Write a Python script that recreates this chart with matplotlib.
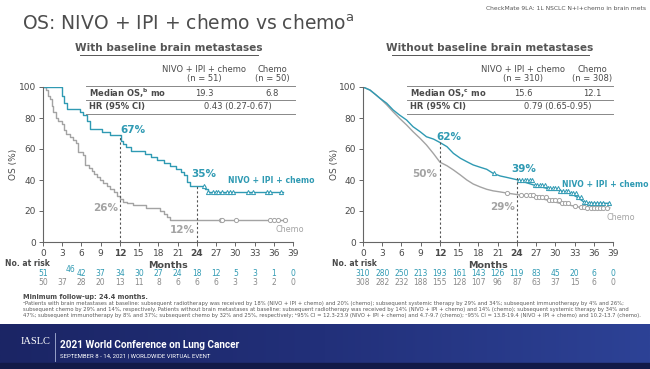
import numpy as np
import matplotlib.pyplot as plt
from matplotlib.lines import Line2D
from matplotlib.patches import Rectangle
from matplotlib.colors import LinearSegmentedColormap
from matplotlib.transforms import blended_transform_factory

TEAL = '#2f9ab3'
GRAY = '#a3a3a3'
DARK = '#4a4a4a'

W, H = 650, 369

# --- data ---
xticks = list(range(0, 40, 3))

# with baseline brain metastases
nivo_L_t = [0, 2.9, 3.3, 3.8, 5.8, 6.3, 6.9, 7.4, 9.2, 10.5, 12.1, 12.5, 13.0, 13.8, 15.9, 16.8,
            17.8, 18.8, 19.8, 20.8, 21.6, 22.0, 22.4, 22.9, 25.3, 25.8, 37.5]
nivo_L_s = [100, 94, 90, 86, 84, 82, 78, 73, 71, 69, 65, 63, 61, 59, 57, 55,
            53, 51, 49, 47, 45, 43, 39, 36, 34, 32, 32]
nivo_L_cens = [25.1, 25.8, 26.5, 27.0, 27.3, 27.9, 28.7, 29.2, 29.7, 32.0, 32.8, 34.9, 35.4, 37.2]

chemo_L_t = [0, 0.5, 0.8, 1.1, 1.4, 1.6, 2.0, 2.4, 2.9, 3.2, 3.6, 4.2, 4.7, 5.2, 5.5, 6.3, 6.6,
             7.1, 7.6, 7.9, 8.4, 8.9, 9.4, 10.0, 10.5, 11.0, 11.5, 12.0, 12.5, 13.1, 14.1, 16.1,
             18.3, 18.8, 19.3, 19.8, 37.8]
chemo_L_s = [100, 98, 94, 92, 88, 84, 80, 78, 76, 72, 70, 68, 66, 64, 58, 56, 50,
             48, 46, 44, 42, 40, 38, 36, 34, 32, 30, 28, 26, 25, 24, 22,
             20, 18, 16, 14, 14]
chemo_L_cens = [27.7, 28.0, 30.1, 35.4, 36.0, 36.6, 37.8]

risk_nivo_L = [51, 46, 42, 37, 34, 30, 27, 24, 18, 12, 5, 3, 1, 0]
risk_chemo_L = [50, 37, 28, 20, 13, 11, 8, 6, 6, 6, 3, 3, 2, 0]

# without baseline brain metastases
nivo_R_t = [0, 1.1, 2.0, 2.65, 3.7, 4.7, 5.7, 6.8, 7.8, 8.9, 9.9, 11.0, 12.0, 13.1, 14.1, 15.2,
            16.2, 17.2, 18.3, 19.3, 20.3, 21.4, 22.4, 24.2, 26.6, 28.7, 30.7, 32.3, 33.3, 34.4,
            35.0, 38.5]
nivo_R_s = [100, 98, 95, 92.7, 89.5, 85.2, 81.9, 78.7, 74.4, 71.2, 67.9, 66.4, 64.2, 61.5, 57.2, 54,
            51.8, 49.7, 48.2, 46.9, 44.3, 42.6, 41.7, 40, 36.8, 34.6, 33.1, 31.4, 29.2, 26,
            25, 25]
nivo_R_cens = [20.5, 24.4, 24.8, 25.2, 25.6, 26.0, 26.4, 26.8, 27.2, 27.6, 28.0, 28.4, 28.8, 29.2,
               29.6, 30.0, 30.4, 30.8, 31.2, 31.6, 32.0, 32.4, 32.8, 33.2, 33.6, 34.0, 34.4, 34.8,
               35.2, 35.6, 36.0, 36.5, 37.0, 37.5, 38.3]

chemo_R_t = [0, 1.1, 2.65, 3.7, 4.7, 5.7, 6.8, 7.8, 8.9, 9.9, 11.0, 12.0, 13.1, 14.1, 15.2, 16.2,
             17.2, 18.3, 19.3, 20.3, 21.4, 22.4, 24.2, 26.6, 28.7, 30.7, 32.9, 33.8, 35.0, 38.5]
chemo_R_s = [100, 98, 92.7, 88.5, 84, 79.8, 75.5, 71.2, 66.9, 62.6, 57, 51.5, 49.2, 46.5, 43.2, 40,
             37.4, 35.5, 34, 33, 32.3, 31.6, 30.5, 29.2, 27.1, 25, 23.2, 22.4, 22, 22]
chemo_R_cens = [22.5, 24.6, 25.5, 26.0, 26.5, 27.0, 27.5, 28.0, 28.5, 29.0, 29.5, 30.0, 30.5, 31.0,
                31.5, 32.0, 33.0, 34.0, 34.5, 35.0, 35.5, 36.0, 36.5, 37.0, 37.5, 38.0]

risk_nivo_R = [310, 280, 250, 213, 193, 161, 143, 126, 119, 83, 45, 20, 6, 0]
risk_chemo_R = [308, 282, 232, 188, 155, 128, 107, 96, 87, 63, 37, 15, 6, 0]


def fx(px):
    return px / W


def fy(py):
    return 1 - py / H


def value_at(t, s, month):
    i = np.searchsorted(t, month, side='right') - 1
    return s[i]


fig = plt.figure(figsize=(6.5, 3.69), dpi=100)
fig.patch.set_facecolor('white')


def panel(left_px, nivo_t, nivo_s, nivo_c, chemo_t, chemo_s, chemo_c, step,
          labels, risk_n, risk_c, risk_shift, ylab_x):
    ax = fig.add_axes([fx(left_px), fy(242), 250 / W, 155 / H])
    ds = 'steps-post' if step else 'default'
    ax.plot(chemo_t, chemo_s, color=GRAY, lw=1.0, drawstyle=ds)
    ax.plot(nivo_t, nivo_s, color=TEAL, lw=1.0, drawstyle=ds)
    ax.plot(chemo_c, [value_at(chemo_t, chemo_s, m) for m in chemo_c], 'o', ms=3.0,
            mfc='white', mec=GRAY, mew=0.7, ls='none')
    ax.plot(nivo_c, [value_at(nivo_t, nivo_s, m) for m in nivo_c], '^', ms=3.0,
            mfc='white', mec=TEAL, mew=0.7, ls='none')
    for m in (12, 24):
        ax.vlines(m, 0, value_at(nivo_t, nivo_s, m), colors='#555555', lw=0.8,
                  linestyles=(0, (2, 2)))
    ax.set_xlim(0, 39)
    ax.set_ylim(0, 100)
    ax.set_xticks(xticks)
    ax.set_yticks(range(0, 101, 20))
    for sp in ('top', 'right'):
        ax.spines[sp].set_visible(False)
    for sp in ('left', 'bottom'):
        ax.spines[sp].set_color('#666666')
        ax.spines[sp].set_linewidth(0.8)
    ax.tick_params(direction='out', length=3, width=0.7, color='#666666',
                   labelsize=6.5, labelcolor=DARK, pad=2)
    for lab in ax.get_xticklabels():
        if lab.get_text() in ('12', '24'):
            lab.set_fontweight('bold')
    ax.set_ylabel('OS (%)', fontsize=6.5, color=DARK)
    ax.yaxis.set_label_coords(ylab_x, 0.5)
    ax.set_xlabel('Months', fontsize=6.8, color=DARK, fontweight='bold', labelpad=2)
    for txt, m, v, col, ha, fs, bold in labels:
        ax.text(m, v, txt, color=col, ha=ha, va='center', fontsize=fs,
                fontweight='bold' if bold else 'normal', clip_on=False)
    tr = blended_transform_factory(ax.transData, fig.transFigure)
    for i, m in enumerate(xticks):
        dx, dy = risk_shift.get(i, (0, 0))
        ax.text(m + dx, fy(273 + dy), str(risk_n[i]), transform=tr, ha='center', va='center',
                fontsize=5.5, color=TEAL)
        ax.text(m, fy(282.5), str(risk_c[i]), transform=tr, ha='center', va='center',
                fontsize=5.5, color='#8a8a8a')
    return ax


labels_L = [('67%', 14.0, 72, TEAL, 'center', 7.5, True),
            ('26%', 9.7, 22, GRAY, 'center', 7.5, True),
            ('35%', 25.1, 44, TEAL, 'center', 7.5, True),
            ('12%', 21.8, 8, GRAY, 'center', 7.5, True),
            ('NIVO + IPI + chemo', 28.9, 39.5, TEAL, 'left', 5.6, True),
            ('Chemo', 36.2, 8, GRAY, 'left', 5.8, False)]
labels_R = [('62%', 13.4, 68, TEAL, 'center', 7.5, True),
            ('50%', 9.7, 44, GRAY, 'center', 7.5, True),
            ('39%', 25.0, 47, TEAL, 'center', 7.5, True),
            ('29%', 21.8, 22.6, GRAY, 'center', 7.5, True),
            ('NIVO + IPI + chemo', 31.0, 37.4, TEAL, 'left', 5.6, True),
            ('Chemo', 38.0, 16, GRAY, 'left', 5.8, False)]

panel(43, nivo_L_t, nivo_L_s, nivo_L_cens, chemo_L_t, chemo_L_s, chemo_L_cens, True,
      labels_L, risk_nivo_L, risk_chemo_L, {1: (1.3, -3)}, -0.1)
panel(363, nivo_R_t, nivo_R_s, nivo_R_cens, chemo_R_t, chemo_R_s, chemo_R_cens, False,
      labels_R, risk_nivo_R, risk_chemo_R, {}, -0.094)

# No. at risk labels
for x0 in (5, 332):
    fig.text(fx(x0), fy(263.5), 'No. at risk', fontsize=5.5, fontweight='bold', color=DARK,
             va='center', ha='left')

# title and headings
fig.text(fx(22), fy(24), r'OS: NIVO + IPI + chemo vs chemo$^{\mathregular{a}}$', fontsize=13.5,
         color='#4d4d4d', va='center', ha='left')
fig.text(fx(646), fy(8), 'CheckMate 9LA: 1L NSCLC N+I+chemo in brain mets', fontsize=4.3,
         color='#555555', ha='right', va='center')

for txt, xc, x0, x1 in [('With baseline brain metastases', 169, 80, 258),
                        ('Without baseline brain metastases', 490, 392, 589)]:
    fig.text(fx(xc), fy(48), txt, fontsize=7.6, fontweight='bold', color='#555555',
             ha='center', va='center')
    fig.add_artist(Line2D([fx(x0), fx(x1)], [fy(55), fy(55)], color='#555555', lw=0.7))


def table(x0, x1, c1, c2, n1, n2, med1, med2, hr, sup):
    kw = dict(fontsize=6, color=DARK, va='center')
    fig.text(fx(c1), fy(69), 'NIVO + IPI + chemo', ha='center', **kw)
    fig.text(fx(c2), fy(69), 'Chemo', ha='center', **kw)
    fig.text(fx(c1), fy(78.5), n1, ha='center', **kw)
    fig.text(fx(c2), fy(78.5), n2, ha='center', **kw)
    fig.text(fx(x0 + 3), fy(93), 'Median OS,$^{\\mathregular{%s}}$ mo' % sup, ha='left',
             fontweight='bold', **kw)
    fig.text(fx(x0 + 3), fy(107), 'HR (95% CI)', ha='left', fontweight='bold', **kw)
    fig.text(fx(c1), fy(93), med1, ha='center', **kw)
    fig.text(fx(c2), fy(93), med2, ha='center', **kw)
    fig.text(fx((c1 + c2) / 2), fy(107), hr, ha='center', **kw)
    for yy in (86, 100, 114):
        fig.add_artist(Line2D([fx(x0), fx(x1)], [fy(yy), fy(yy)], color='#888888', lw=0.7))


table(86, 295, 204, 272, '(n = 51)', '(n = 50)', '19.3', '6.8', '0.43 (0.27-0.67)', 'b')
table(407, 613, 523, 592, '(n = 310)', '(n = 308)', '15.6', '12.1', '0.79 (0.65-0.95)', 'c')

# footnotes
fig.text(fx(23), fy(297), 'Minimum follow-up: 24.4 months.', fontsize=4.8, fontweight='bold',
         color=DARK, va='center')
foot = [
    '\u1d43Patients with brain metastases at baseline: subsequent radiotherapy was received by 18% '
    '(NIVO + IPI + chemo) and 20% (chemo); subsequent systemic therapy by 29% and 34%; subsequent immunotherapy by 4% and 26%;',
    'subsequent chemo by 29% and 14%, respectively. Patients without brain metastases at baseline: subsequent radiotherapy '
    'was received by 14% (NIVO + IPI + chemo) and 14% (chemo); subsequent systemic therapy by 34% and',
    '47%; subsequent immunotherapy by 8% and 37%; subsequent chemo by 32% and 25%, respectively; '
    '\u1d4795% CI = 12.3-23.9 (NIVO + IPI + chemo) and 4.7-9.7 (chemo); '
    '\u1d9c95% CI = 13.8-19.4 (NIVO + IPI + chemo) and 10.2-13.7 (chemo).',
]
for i, line in enumerate(foot):
    fig.text(fx(23), fy(303.5 + i * 5.8), line, fontsize=3.8, color='#5a5a5a', va='center')

# conference banner
axb = fig.add_axes([0, 0, 1, 45 / H])
grad = np.linspace(0, 1, 256).reshape(1, -1)
cmap = LinearSegmentedColormap.from_list('band', ['#1b2565', '#22307a', '#2d4296'])
axb.imshow(grad, aspect='auto', cmap=cmap, extent=[0, 1, 0, 1])
axb.add_patch(Rectangle((0, 0), 1, 6 / 45, color='#121a48'))
axb.set_xlim(0, 1)
axb.set_ylim(0, 1)
axb.axis('off')

fig.text(fx(21), fy(342), 'IASLC', fontsize=7.5, color='white', family='Liberation Serif',
         va='center')
fig.add_artist(Line2D([fx(55), fx(55)], [fy(333), fy(361)], color='#aab4d8', lw=0.6))
fig.text(fx(60), fy(345), '2021 World Conference on Lung Cancer', fontsize=7.2, color='white',
         family='Roboto', fontweight='bold', va='center')
fig.text(fx(60), fy(356.5), 'SEPTEMBER 8 - 14, 2021 | WORLDWIDE VIRTUAL EVENT', fontsize=4.3,
         color='white', family='Roboto', va='center')

fig.savefig('out.png', dpi=100)
